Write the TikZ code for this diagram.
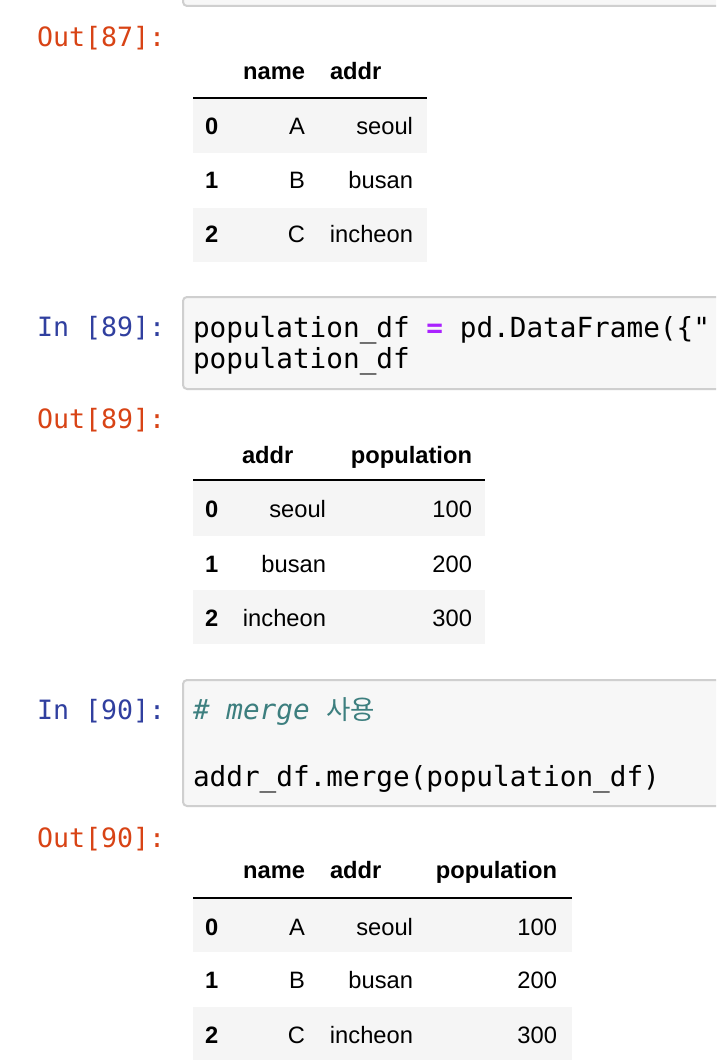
\documentclass[tikz,border=0pt]{standalone}
\usepackage{fontspec}
\setmainfont{Liberation Sans}
\newfontfamily\codefont{DejaVu Sans Mono}
\newfontfamily\krfont{Noto Sans CJK KR}
\definecolor{outred}{HTML}{D84315}
\definecolor{inblue}{HTML}{303F9F}
\definecolor{cellbg}{HTML}{F7F7F7}
\definecolor{cellbd}{HTML}{CFCFCF}
\definecolor{stripegray}{HTML}{F5F5F5}
\definecolor{cmt}{HTML}{3D7F7F}
\definecolor{oper}{HTML}{AA22FF}
\begin{document}
\begin{tikzpicture}[x=1pt,y=-1pt,
  every node/.style={inner sep=0pt, outer sep=0pt},
  outprompt/.style={anchor=base west, text=outred, font=\codefont\fontsize{26.6}{32}\selectfont},
  inprompt/.style={anchor=base west, text=inblue, font=\codefont\fontsize{26.6}{32}\selectfont},
  codeline/.style={anchor=base west, font=\codefont\fontsize{27.7}{33}\selectfont},
  cellbox/.style={draw=cellbd, fill=cellbg, line width=2pt, rounded corners=4pt},
  th/.style={font=\bfseries\fontsize{23.7}{28}\selectfont},
  td/.style={font=\fontsize{23.7}{28}\selectfont},
  idx/.style={anchor=base west, font=\bfseries\fontsize{23.7}{28}\selectfont},
  hline/.style={line width=2pt, draw=black},
  rowbg/.style={fill=stripegray}]
\useasboundingbox (0,0) rectangle (716,1064);
\clip (0,0) rectangle (716,1064);
\fill[white] (0,0) rectangle (716,1064);

% previous cell (bottom edge only visible)
\draw[cellbox] (183,-30) rectangle (760,6);

% ---------- Out[87] ----------
\node[outprompt] (out87) at (37,47) {Out[87]:};
\fill[rowbg] (193,99) rectangle (427,153);
\fill[rowbg] (193,208) rectangle (427,262);
\draw[hline] (193,98) -- (427,98);
\node[th, anchor=base east] (a-h1) at (305,80) {name};
\node[th, anchor=base west] (a-h2) at (330,80) {addr};
\node[idx] (a-i0) at (205,135) {0};
\node[idx] (a-i1) at (205,189) {1};
\node[idx] (a-i2) at (205,243) {2};
\node[td, anchor=base east] (a-n0) at (305,135) {A};
\node[td, anchor=base east] (a-n1) at (305,189) {B};
\node[td, anchor=base east] (a-n2) at (305,243) {C};
\node[td, anchor=base east] (a-a0) at (413,135) {seoul};
\node[td, anchor=base east] (a-a1) at (413,189) {busan};
\node[td, anchor=base east] (a-a2) at (413,243) {incheon};

% ---------- In [89] ----------
\node[inprompt] (in89) at (37,336) {In [89]:};
\draw[cellbox] (183,297) rectangle (760,389);
\node[codeline] (c89a) at (193,337) {population\_df {\bfseries\color{oper}=} pd.DataFrame(\{"};
\node[codeline] (c89b) at (193,368) {population\_df};

% ---------- Out[89] ----------
\node[outprompt] (out89) at (37,428) {Out[89]:};
\fill[rowbg] (193,481) rectangle (485,536);
\fill[rowbg] (193,590) rectangle (485,644);
\draw[hline] (193,480) -- (485,480);
\node[th, anchor=base west] (b-h1) at (242,463) {addr};
\node[th, anchor=base east] (b-h2) at (472,463) {population};
\node[idx] (b-i0) at (205,517) {0};
\node[idx] (b-i1) at (205,572) {1};
\node[idx] (b-i2) at (205,626) {2};
\node[td, anchor=base east] (b-a0) at (326,517) {seoul};
\node[td, anchor=base east] (b-a1) at (326,572) {busan};
\node[td, anchor=base east] (b-a2) at (326,626) {incheon};
\node[td, anchor=base east] (b-p0) at (472,517) {100};
\node[td, anchor=base east] (b-p1) at (472,572) {200};
\node[td, anchor=base east] (b-p2) at (472,626) {300};

% ---------- In [90] ----------
\node[inprompt] (in90) at (37,719) {In [90]:};
\draw[cellbox] (183,680) rectangle (760,806);
\node[codeline] (c90a) at (193,719) {{\color{cmt}\itshape \# merge {\krfont\upshape\fontsize{26.5}{33}\selectfont 사용}}};
\node[codeline] (c90b) at (193,786) {addr\_df.merge(population\_df)};

% ---------- Out[90] ----------
\node[outprompt] (out90) at (37,847) {Out[90]:};
\fill[rowbg] (193,899) rectangle (572,952);
\fill[rowbg] (193,1007) rectangle (572,1060);
\draw[hline] (193,898) -- (572,898);
\node[th, anchor=base east] (c-h1) at (305,878) {name};
\node[th, anchor=base west] (c-h2) at (330,878) {addr};
\node[th, anchor=base east] (c-h3) at (557,878) {population};
\node[idx] (c-i0) at (205,935) {0};
\node[idx] (c-i1) at (205,988) {1};
\node[idx] (c-i2) at (205,1043) {2};
\node[td, anchor=base east] (c-n0) at (305,935) {A};
\node[td, anchor=base east] (c-n1) at (305,988) {B};
\node[td, anchor=base east] (c-n2) at (305,1043) {C};
\node[td, anchor=base east] (c-a0) at (413,935) {seoul};
\node[td, anchor=base east] (c-a1) at (413,988) {busan};
\node[td, anchor=base east] (c-a2) at (413,1043) {incheon};
\node[td, anchor=base east] (c-p0) at (557,935) {100};
\node[td, anchor=base east] (c-p1) at (557,988) {200};
\node[td, anchor=base east] (c-p2) at (557,1043) {300};
\end{tikzpicture}
\end{document}
